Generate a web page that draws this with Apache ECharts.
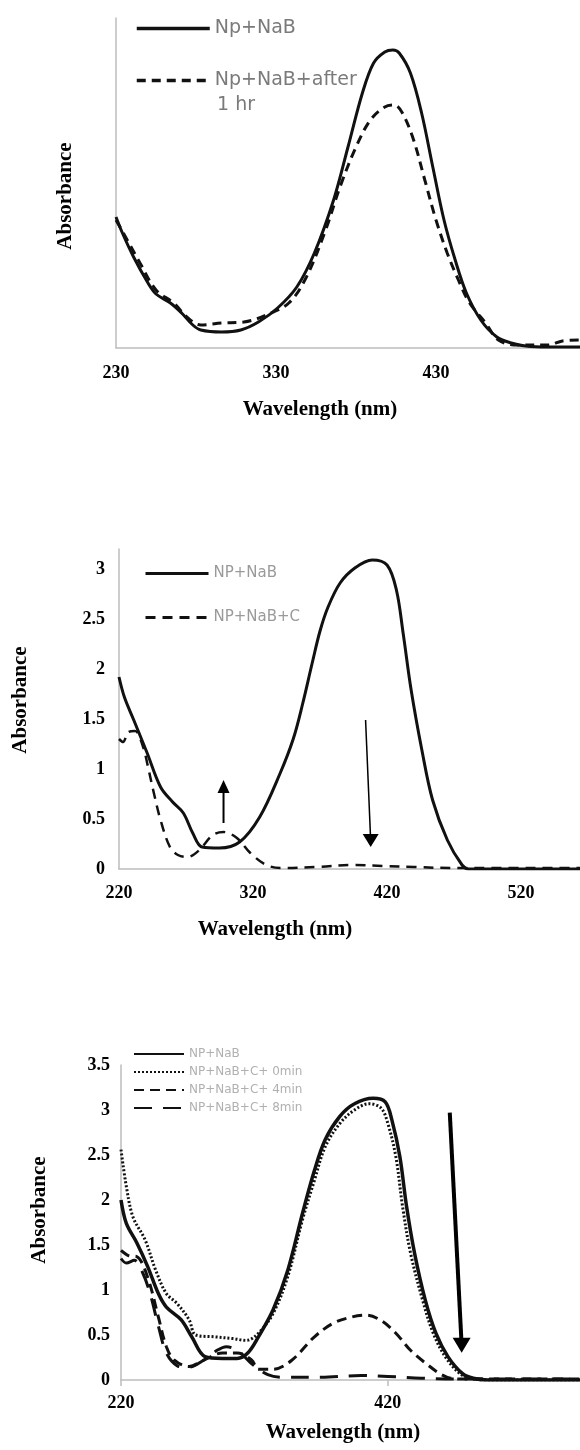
<!DOCTYPE html>
<html><head><meta charset="utf-8">
<script src="https://cdn.jsdelivr.net/npm/echarts@6/dist/echarts.min.js"></script>
<style>html,body{margin:0;padding:0;background:#fff}#c{width:580px;height:1450px}</style>
</head><body><div id="c"></div>
<script>
// ---------- Panel 1 ----------
const P1_NAMES = ['Np+NaB', 'Np+NaB+after'];
const P1_WL_A  = [230,234,241,250,255,264,271,278,283,296,308,319,331,343,354,366,375,384,391,398,403,407,414,421,428,435,442,449,458,468,477,486,500,520];
const P1_ABS_A = [1.31,1.15,0.91,0.65,0.54,0.45,0.35,0.23,0.18,0.16,0.18,0.26,0.40,0.61,0.95,1.48,2.01,2.55,2.85,2.96,2.98,2.95,2.75,2.35,1.81,1.28,0.88,0.55,0.28,0.11,0.05,0.02,0.01,0.01];
const P1_WL_B  = [230,237,245,255,266,275,283,296,310,324,338,349,361,370,380,389,398,404,409,416,423,430,437,444,451,461,469,481,500,509,520];
const P1_ABS_B = [1.28,1.08,0.85,0.58,0.45,0.30,0.23,0.25,0.26,0.33,0.45,0.71,1.18,1.61,2.01,2.28,2.41,2.43,2.35,2.08,1.68,1.28,0.95,0.68,0.45,0.25,0.08,0.03,0.03,0.07,0.08];
const P1_XTICKS = {min:230, max:520, interval:100};

// ---------- Panel 2 ----------
const P2_NAMES = ['NP+NaB', 'NP+NaB+C'];
const P2_WL_A  = [220,224,231,241,251,260,268,275,282,295,310,325,340,350,357,364,370,376,385,396,409,420,427,432,438,446,454,465,476,481,564];
const P2_ABS_A = [1.92,1.72,1.49,1.16,0.82,0.67,0.56,0.36,0.22,0.21,0.27,0.52,0.95,1.30,1.65,2.05,2.38,2.62,2.86,3.01,3.09,3.04,2.79,2.36,1.79,1.19,0.69,0.29,0.04,0.0,0.0];
const P2_WL_B  = [220,223,227,232,238,241,246,251,258,264,271,280,290,298,308,318,330,342,368,395,417,440,470,564];
const P2_ABS_B = [1.30,1.27,1.37,1.38,1.22,1.06,0.76,0.49,0.22,0.14,0.12,0.19,0.34,0.37,0.31,0.16,0.04,0.01,0.02,0.04,0.03,0.02,0.01,0.01];
// arrows: [tail, head centre]
const P2_ARROW_UP   = [[298, 0.46], [298, 0.825]];
const P2_ARROW_DOWN = [[404, 1.49], [407.8, 0.285]];
const P2_YTICKS = {min:0, max:3.2, interval:0.5};
const P2_XTICKS = {min:220, max:564, interval:100};

// ---------- Panel 3 ----------
const P3_NAMES = ['NP+NaB', 'NP+NaB+C+ 0min', 'NP+NaB+C+ 4min', 'NP+NaB+C+ 8min'];
const P3_WL_A  = [220,224,232,240,248,254,265,273,283,296,307,315,323,334,345,356,365,373,384,395,409,418,423,429,434,440,448,456,465,476,484,495,564];
const P3_ABS_A = [2.00,1.74,1.52,1.26,0.96,0.81,0.67,0.48,0.26,0.24,0.24,0.30,0.48,0.78,1.22,1.85,2.33,2.67,2.93,3.07,3.13,3.09,2.89,2.48,1.93,1.41,0.89,0.52,0.26,0.07,0.02,0.0,0.0];
const P3_WL_B  = [220,224,229,238,246,254,262,271,276,290,304,314,323,334,345,356,365,373,384,395,406,415,420,426,431,437,446,454,463,474,482,495,564];
const P3_ABS_B = [2.56,2.15,1.81,1.56,1.22,0.96,0.85,0.67,0.50,0.48,0.46,0.44,0.52,0.74,1.15,1.78,2.22,2.59,2.85,3.00,3.07,3.02,2.85,2.48,1.93,1.41,0.89,0.52,0.26,0.07,0.02,0.0,0.0];
const P3_WL_C  = [220,226,232,240,248,254,260,271,282,296,307,318,323,334,348,365,379,393,404,415,426,437,448,459,467,480,564];
const P3_ABS_C = [1.44,1.38,1.37,1.14,0.70,0.37,0.22,0.15,0.22,0.30,0.30,0.22,0.12,0.12,0.22,0.48,0.63,0.70,0.72,0.66,0.52,0.33,0.19,0.07,0.02,0.01,0.01];
const P3_WL_D  = [220,224,230,236,242,248,254,262,270,282,292,299,308,318,330,342,370,400,420,445,470,564];
const P3_ABS_D = [1.35,1.30,1.33,1.20,0.95,0.60,0.30,0.16,0.14,0.22,0.33,0.37,0.32,0.18,0.06,0.03,0.03,0.05,0.04,0.02,0.01,0.01];
const P3_ARROW = [[466.4, 2.97], [475.3, 0.385]];
const P3_YTICKS = {min:0, max:3.5, interval:0.5};
const P3_XTICKS = {min:220, max:564, interval:200};

const zip = (xs, ys) => xs.map((x, i) => [x, ys[i]]);
const AXIS_GRAY = '#bdbdbd';
const SERIF = {fontFamily:'Liberation Serif', fontWeight:'bold', color:'#000'};

function xAx(gi, t, labelMargin, nameGap, padR, tick) {
  return {gridIndex:gi, type:'value', min:t.min, max:t.max, interval:t.interval,
    axisLine:{show:true, onZero:false, lineStyle:{color:AXIS_GRAY, width:1.5}},
    axisTick:{show:!!tick, length:6, lineStyle:{color:AXIS_GRAY, width:1.5}},
    splitLine:{show:false},
    axisLabel:Object.assign({fontSize:18, margin:labelMargin, showMaxLabel:false}, SERIF),
    name:'Wavelength (nm)', nameLocation:'middle', nameGap:nameGap,
    nameTextStyle:Object.assign({fontSize:21, padding:[0,padR,0,0]}, SERIF)};
}
function yAx(gi, t, showLabels, labelMargin, nameGap, pad) {
  const a = {gridIndex:gi, type:'value', min:t.min, max:t.max,
    axisLine:{show:true, onZero:false, lineStyle:{color:AXIS_GRAY, width:1.5}},
    axisTick:{show:false}, splitLine:{show:false},
    axisLabel:Object.assign({show:showLabels, fontSize:18, margin:labelMargin, showMaxLabel:t.max % t.interval === 0}, SERIF),
    name:'Absorbance', nameLocation:'middle', nameRotate:90, nameGap:nameGap,
    nameTextStyle:Object.assign({fontSize:21, padding:pad}, SERIF)};
  if (t.interval) a.interval = t.interval;
  return a;
}
function line(name, gi, data, width, type) {
  return {name:name, type:'line', xAxisIndex:gi, yAxisIndex:gi, data:data,
    symbol:'none', smooth:0.35, silent:true, z:2,
    lineStyle:{color:'#111', width:width, type:type, cap:'butt'}, itemStyle:{color:'#111'}};
}
function shaft(gi, pts, width) {
  return {name:'_arrow', type:'line', xAxisIndex:gi, yAxisIndex:gi, data:pts, symbol:'none', smooth:false,
    silent:true, z:4, lineStyle:{color:'#000', width:width, type:'solid'}};
}
function head(gi, pt, size, rotate) {
  return {name:'_arrowhead', type:'scatter', xAxisIndex:gi, yAxisIndex:gi, data:[pt], symbol:'triangle',
    symbolSize:size, symbolRotate:rotate, silent:true, z:5, itemStyle:{color:'#000', opacity:1}};
}

const LEG_COMMON = {orient:'vertical', padding:0, selectedMode:false, itemStyle:{opacity:0, borderWidth:0}};

const chart = echarts.init(document.getElementById('c'), null, {renderer:'canvas'});
chart.setOption({
  animation:false,
  backgroundColor:'#fff',
  grid:[
    {left:116, top:18, width:464, height:330, containLabel:false, outerBoundsMode:'none'},
    {left:119, top:549, width:461, height:320, containLabel:false, outerBoundsMode:'none'},
    {left:121, top:1065, width:459, height:315, containLabel:false, outerBoundsMode:'none'}
  ],
  xAxis:[
    xAx(0, P1_XTICKS, 16, 51, 56, false),
    xAx(1, P2_XTICKS, 15, 50, 149, false),
    xAx(2, P3_XTICKS, 14, 42, 15, true)
  ],
  yAxis:[
    yAx(0, {min:0, max:3.3}, false, 14, 40, [0,26,0,0]),
    yAx(1, P2_YTICKS, true, 14, 88, [0,0,0,18]),
    yAx(2, P3_YTICKS, true, 11, 71, [0,0,0,25])
  ],
  legend:[
    Object.assign({data:P1_NAMES, left:135, top:19, itemWidth:73, itemHeight:12, itemGap:33,
     lineStyle:{width:3.5},
     textStyle:{fontFamily:'DejaVu Sans', fontSize:19, color:'#7a7a7a'}}, LEG_COMMON),
    Object.assign({data:P2_NAMES, left:144, top:566, itemWidth:63, itemHeight:12, itemGap:29,
     lineStyle:{width:3},
     textStyle:{fontFamily:'DejaVu Sans', fontSize:15, color:'#9a9a9a'}}, LEG_COMMON),
    Object.assign({data:P3_NAMES, left:133, top:1048, itemWidth:50, itemHeight:10, itemGap:6,
     lineStyle:{width:2}, textStyle:{fontFamily:'DejaVu Sans', fontSize:12, color:'#b0b0b0'}}, LEG_COMMON)
  ],
  graphic:[
    {type:'text', left:217, top:96, silent:true, style:{text:'1 hr', font:'19px "DejaVu Sans"', fill:'#7a7a7a'}}
  ],
  series:[
    line(P1_NAMES[0], 0, zip(P1_WL_A, P1_ABS_A), 3, 'solid'),
    line(P1_NAMES[1], 0, zip(P1_WL_B, P1_ABS_B), 3, [9,6]),
    line(P2_NAMES[0], 1, zip(P2_WL_A, P2_ABS_A), 3, 'solid'),
    line(P2_NAMES[1], 1, zip(P2_WL_B, P2_ABS_B), 2.5, [10,7]),
    line(P3_NAMES[0], 2, zip(P3_WL_A, P3_ABS_A), 3.5, 'solid'),
    line(P3_NAMES[1], 2, zip(P3_WL_B, P3_ABS_B), 3, [2,2]),
    line(P3_NAMES[2], 2, zip(P3_WL_C, P3_ABS_C), 3, [10,6]),
    line(P3_NAMES[3], 2, zip(P3_WL_D, P3_ABS_D), 3, [18,11]),
    shaft(1, P2_ARROW_UP, 2), head(1, P2_ARROW_UP[1], [12,13], 0),
    shaft(1, P2_ARROW_DOWN, 1.5), head(1, P2_ARROW_DOWN[1], [16,13], 180),
    shaft(2, P3_ARROW, 4), head(2, P3_ARROW[1], [18,15], 180)
  ]
});
</script></body></html>
